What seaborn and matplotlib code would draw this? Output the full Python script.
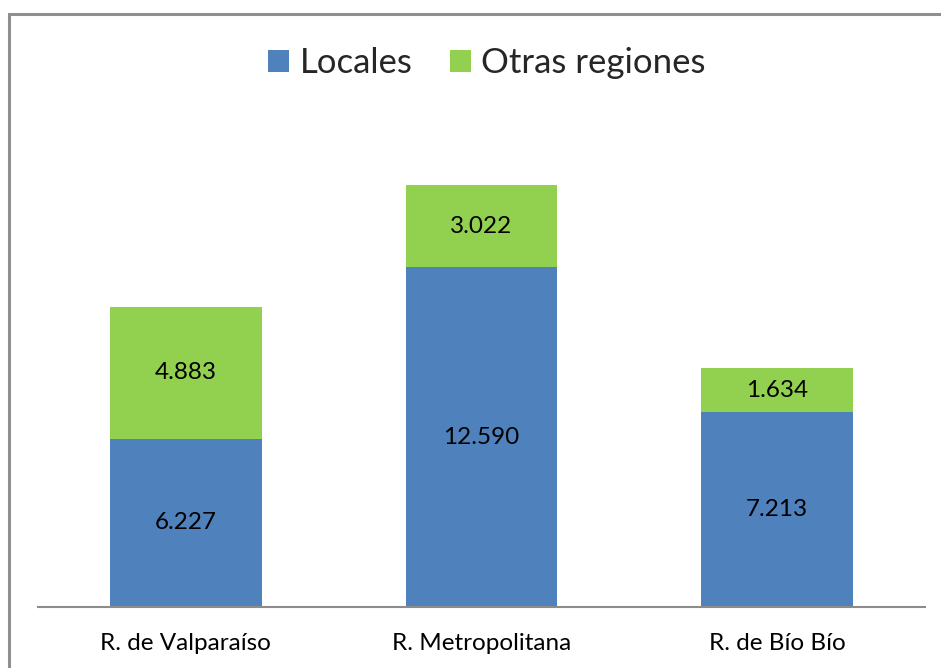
import matplotlib
matplotlib.use("Agg")
import matplotlib.pyplot as plt
import seaborn as sns
import pandas as pd
from matplotlib.patches import Rectangle, Patch

regions = ["R. de Valparaíso", "R. Metropolitana", "R. de Bío Bío"]
locales = [6227, 12590, 7213]
otras = [4883, 3022, 1634]
locales_labels = ["6.227", "12.590", "7.213"]
otras_labels = ["4.883", "3.022", "1.634"]
series_names = ["Locales", "Otras regiones"]

BLUE = "#4F81BD"
GREEN = "#92D050"

sns.set_theme(style="white")
plt.rcParams["font.family"] = ["Lato", "DejaVu Sans"]

df = pd.DataFrame({"region": regions, "locales": locales, "otras": otras})
df["total"] = df["locales"] + df["otras"]

fig = plt.figure(figsize=(9.41, 6.68), dpi=100)
ax = fig.add_axes([38/941, 61/668, 887/941, 486/668])

sns.barplot(data=df, x="region", y="total", color=GREEN, saturation=1, width=0.514,
            linewidth=0, ax=ax)
sns.barplot(data=df, x="region", y="locales", color=BLUE, saturation=1, width=0.514,
            linewidth=0, ax=ax)

ax.set_xlim(-0.5, 2.5)
ax.set_ylim(0, 18000)
ax.set_xlabel("")
ax.set_ylabel("")
ax.set_yticks([])
for s in ["top", "right", "left"]:
    ax.spines[s].set_visible(False)
ax.spines["bottom"].set_color("#8c8c8c")
ax.spines["bottom"].set_linewidth(1.5)
ax.tick_params(axis="x", length=0, pad=19, labelsize=17.5, labelcolor="black")

for i in range(len(regions)):
    ax.text(i, locales[i] / 2, locales_labels[i], ha="center", va="center", fontsize=17.5, color="black")
    ax.text(i, locales[i] + otras[i] / 2, otras_labels[i], ha="center", va="center", fontsize=17.5, color="black")

handles = [Patch(facecolor=BLUE, edgecolor="none"), Patch(facecolor=GREEN, edgecolor="none")]
fig.legend(handles, series_names, loc="center", bbox_to_anchor=(487/941, 1 - 63/668), ncol=2,
           frameon=False, fontsize=25, handlelength=0.6, handleheight=0.6, handletextpad=0.3,
           columnspacing=1.07)

fig.patches.append(Rectangle((8.5/941, -0.1), 2, 1 - 14.5/668 + 0.1, transform=fig.transFigure,
                             fill=False, edgecolor="#8f8f8f", linewidth=2.2, figure=fig))

fig.savefig("out.png", dpi=100)
